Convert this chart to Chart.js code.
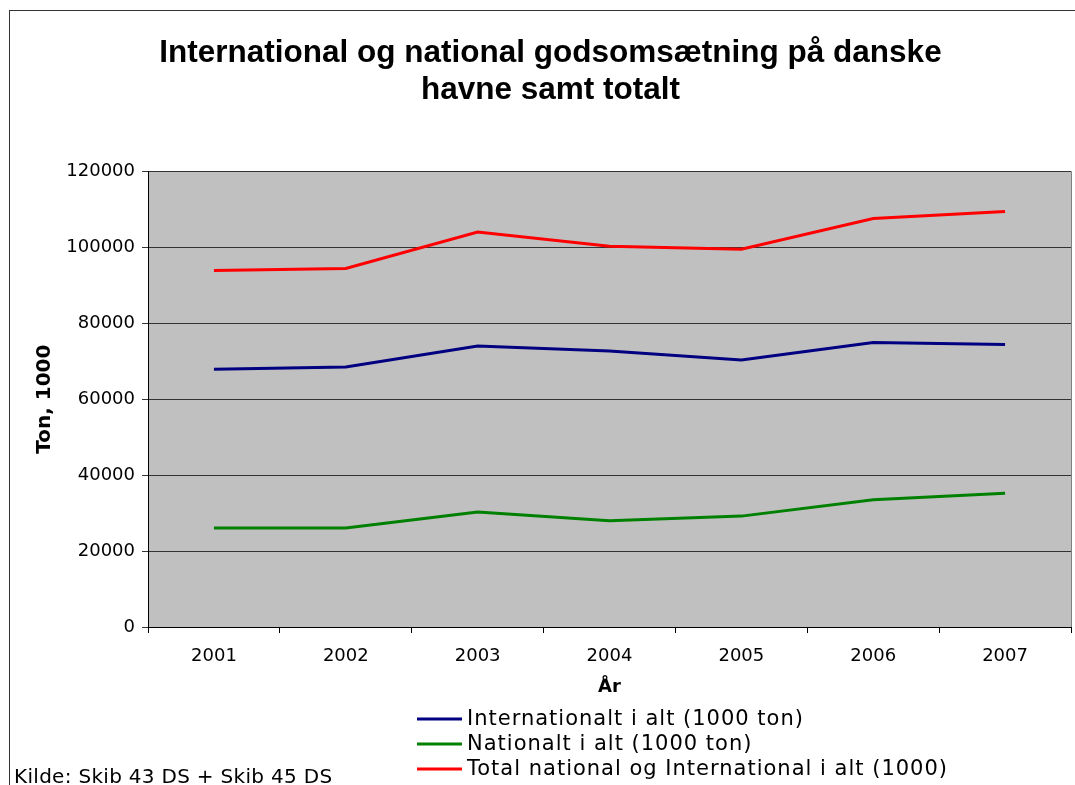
<!DOCTYPE html>
<html>
<head>
<meta charset="utf-8">
<script src="https://cdn.jsdelivr.net/npm/chart.js@4.4.1/dist/chart.umd.min.js"></script>
<style>
    body { margin: 0; background: #fff; }
    #wrap { width: 1075px; height: 785px; }
</style>
</head>
<body>
<div id="wrap"><canvas id="chart" width="1075" height="785"></canvas></div>
<script>
const years = ['2001', '2002', '2003', '2004', '2005', '2006', '2007'];
const internationalt = [67900, 68500, 74000, 72700, 70300, 74900, 74400];
const nationalt = [26050, 26050, 30300, 28000, 29200, 33500, 35200];
const total = [93900, 94400, 104000, 100300, 99500, 107600, 109400];
const seriesLabels = [
    'Internationalt i alt (1000 ton)',
    'Nationalt i alt (1000 ton)',
    'Total national og International i alt (1000)'
];
const titleLines = ['International og national godsomsætning på danske', 'havne samt totalt'];
const sourceNote = 'Kilde: Skib 43 DS + Skib 45 DS';

// grey plot background, frame and the hand-placed legend
const excelLook = {
    id: 'excelLook',
    beforeDraw(chart) {
        const {ctx, chartArea: a} = chart;
        ctx.save();
        ctx.fillStyle = '#c0c0c0';
        ctx.fillRect(a.left, a.top, a.right - a.left, a.bottom - a.top);
        ctx.strokeStyle = '#333';
        ctx.lineWidth = 1;
        ctx.strokeRect(9.5, 10.5, 1200, 900);
        ctx.restore();
    },
    afterDraw(chart) {
        const {ctx, chartArea: a} = chart;
        ctx.save();
        ctx.strokeStyle = '#808080';
        ctx.lineWidth = 1;
        ctx.beginPath();
        ctx.moveTo(Math.round(a.right) + 0.5, a.top);
        ctx.lineTo(Math.round(a.right) + 0.5, a.bottom);
        ctx.stroke();

        const rows = [719, 744, 769];
        ctx.font = '21px "DejaVu Sans"';
        ctx.letterSpacing = '1px';
        ctx.textBaseline = 'middle';
        chart.data.datasets.forEach((ds, i) => {
            ctx.strokeStyle = ds.borderColor;
            ctx.lineWidth = 3;
            ctx.beginPath();
            ctx.moveTo(417, rows[i]);
            ctx.lineTo(462, rows[i]);
            ctx.stroke();
            ctx.fillStyle = '#000';
            ctx.fillText(ds.label, 467, rows[i] + 1);
        });

        ctx.font = '20px "DejaVu Sans"';
        ctx.letterSpacing = '0.3px';
        ctx.textBaseline = 'alphabetic';
        ctx.fillText(sourceNote, 14, 783);
        ctx.restore();
    }
};

const ctx = document.getElementById('chart').getContext('2d');
const chart = new Chart(ctx, {
    type: 'line',
    data: {
        labels: years,
        datasets: [
            {label: seriesLabels[0], data: internationalt, borderColor: '#000080'},
            {label: seriesLabels[1], data: nationalt, borderColor: '#008000'},
            {label: seriesLabels[2], data: total, borderColor: '#ff0000'}
        ]
    },
    options: {
        responsive: false,
        animation: false,
        devicePixelRatio: 1,
        elements: {
            line: {borderWidth: 3, tension: 0},
            point: {radius: 0}
        },
        layout: {padding: {left: 30, right: 4, top: 0, bottom: 86}},
        plugins: {
            legend: {display: false},
            tooltip: {enabled: false},
            title: {
                display: true,
                text: titleLines,
                color: '#000',
                font: {family: '"Liberation Sans", Arial', size: 31.5, weight: 'bold', lineHeight: 1.18},
                padding: {top: 35, bottom: 62}
            }
        },
        scales: {
            x: {
                offset: true,
                grid: {offset: true, drawOnChartArea: false, tickLength: 6, color: '#000'},
                border: {color: '#000', width: 1},
                ticks: {color: '#000', padding: 13, font: {family: '"DejaVu Sans"', size: 18}, maxRotation: 0},
                title: {
                    display: true, text: 'År', color: '#000',
                    font: {family: '"DejaVu Sans"', size: 18, weight: 'bold'},
                    padding: {top: 2, bottom: 1}
                },
                afterFit(scale) { scale.height = 72; }
            },
            y: {
                min: 0,
                max: 120000,
                grid: {color: '#333', tickLength: 6},
                border: {color: '#000', width: 1},
                ticks: {
                    stepSize: 20000,
                    color: '#000',
                    padding: 7,
                    font: {family: '"DejaVu Sans"', size: 18},
                    callback: v => String(v)
                },
                title: {
                    display: true, text: 'Ton, 1000', color: '#000',
                    font: {family: '"DejaVu Sans"', size: 20, weight: 'bold'},
                    padding: {top: 3, bottom: 0}
                },
                afterFit(scale) { scale.width = 118; }
            }
        }
    },
    plugins: [excelLook]
});
</script>
</body>
</html>
